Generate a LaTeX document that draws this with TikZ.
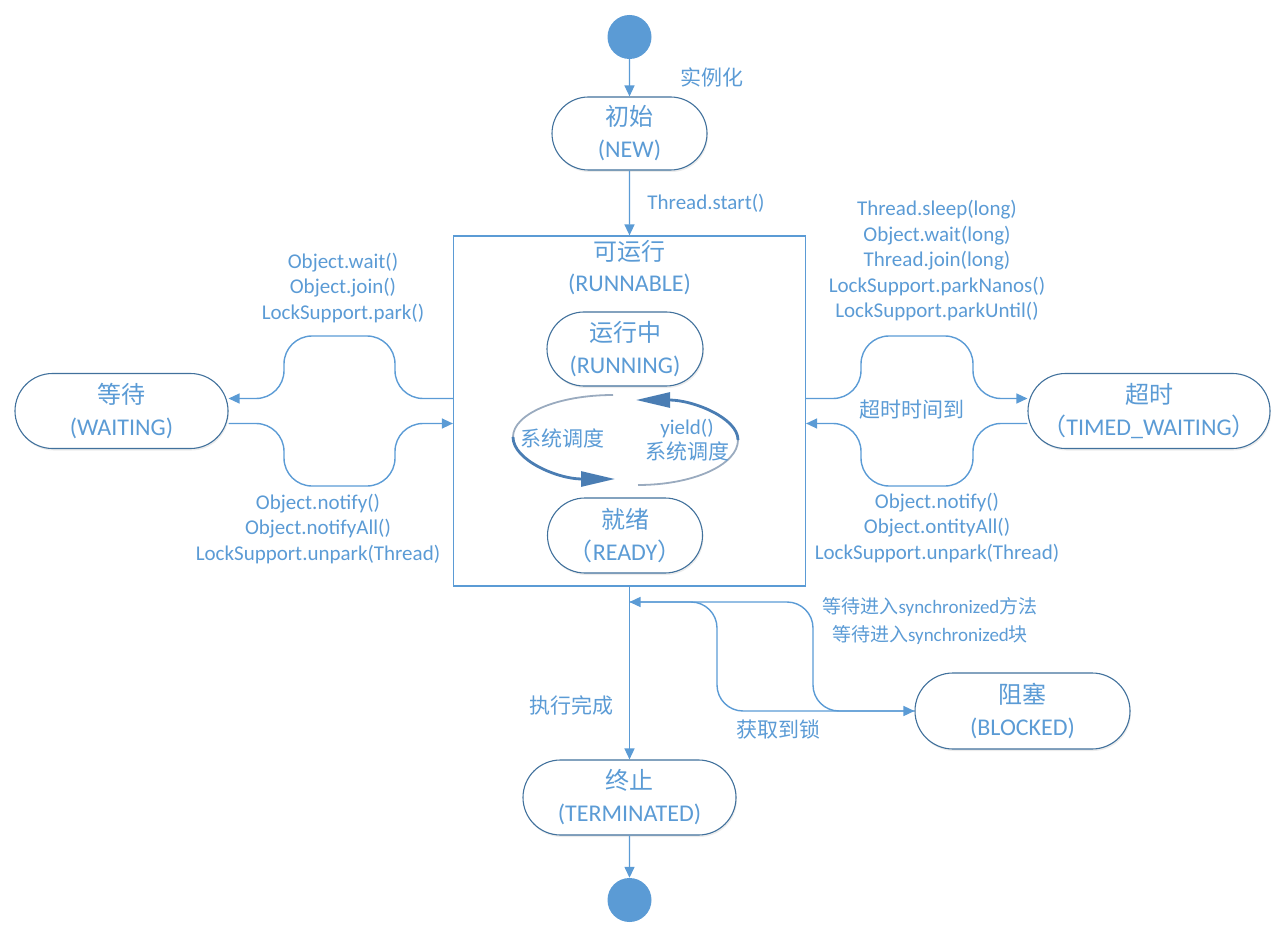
\documentclass[tikz,border=0pt]{standalone}
\usepackage{fontspec}
\setmainfont{Carlito}
\newfontfamily\cjk{Noto Sans CJK SC}
\usetikzlibrary{shapes.misc,arrows.meta,shadows}
\definecolor{lblue}{HTML}{5B9BD5}
\definecolor{nborder}{HTML}{41719C}
\definecolor{cyc}{HTML}{4A7DB3}
\definecolor{cycgray}{HTML}{9AABBF}
\begin{document}
\begin{tikzpicture}[x=1pt,y=-1pt,
  state/.style={rounded rectangle, draw=nborder, line width=1.1pt, fill=white, text=lblue, align=center, inner sep=0pt, font=\fontsize{24}{32}\selectfont, drop shadow={shadow xshift=1pt, shadow yshift=-2pt, opacity=0.15}},
  lbl/.style={text=lblue, align=center, font=\fontsize{21}{25.5}\selectfont, inner sep=0pt},
  conn/.style={draw=lblue, line width=1.4pt, -{Triangle[length=11pt,width=10pt]}},
  dot/.style={circle, fill=lblue, minimum size=44pt, inner sep=0pt},
  cycarrow/.style={draw=cyc, line width=2.8pt, -{Triangle[length=34pt,width=15pt]}},
  cycstart/.style={draw=cycgray, line width=1.8pt},
]
\useasboundingbox (0,0) rectangle (1286,928);

% nodes
\node[dot] (start) at (629.5,37) {};
\node[state, minimum width=155pt, minimum height=73pt] (new) at (629.5,133.5) {{\cjk 初始}\\(NEW)};
\node[draw=lblue, line width=1.2pt, minimum width=352pt, minimum height=350pt, inner sep=0pt] (box) at (629.5,411) {};
\node[lbl, font=\fontsize{24}{31}\selectfont] (boxtitle) at (629.5,268) {{\cjk 可运行}\\(RUNNABLE)};
\node[state, minimum width=156pt, minimum height=74pt] (running) at (625,349) {{\cjk 运行中}\\(RUNNING)};
\node[state, minimum width=155pt, minimum height=75pt] (ready) at (625,535.5) {{\cjk 就绪}\\{\cjk （}READY{\cjk ）}};
\node[state, minimum width=213pt, minimum height=75pt] (wait) at (121.5,411) {{\cjk 等待}\\(WAITING)};
\node[state, minimum width=242pt, minimum height=75pt] (timed) at (1149,411) {{\cjk 超时}\\{\cjk （}TIMED\_WAITING{\cjk ）}};
\node[state, minimum width=215pt, minimum height=76pt] (blocked) at (1022.5,711) {{\cjk 阻塞}\\(BLOCKED)};
\node[state, minimum width=213pt, minimum height=75pt] (term) at (629.5,797.5) {{\cjk 终止}\\(TERMINATED)};
\node[dot] (end) at (629.5,900) {};

% main connectors
\draw[conn] (start) -- (new);
\draw[conn] (new) -- (box.north);
\draw[conn] (box.south) -- (term.north);
\draw[conn] (term) -- (end);

% cycle between running and ready
\draw[cycstart] (613,395) .. controls (557.8,395) and (513,413.8) .. (513,437);
\draw[cycarrow] (513,437) .. controls (513,460.2) and (557.8,479) .. (615,479);
\draw[cycstart] (638,485) .. controls (693.2,485) and (738,464.8) .. (738,440);
\draw[cycarrow] (738,440) .. controls (738,418) and (693.2,400) .. (636,400);

% waiting
\draw[conn, rounded corners=28pt] ([yshift=12.5pt]box.west) -| (395,336) -| (284,398.5) -- ([yshift=12.5pt]wait.east);
\draw[conn, rounded corners=28pt] ([yshift=-12.5pt]wait.east) -| (284,486) -| (395,423.5) -- ([yshift=-12.5pt]box.west);

% timed waiting
\draw[conn, rounded corners=28pt] ([yshift=12.5pt]box.east) -| (861,336) -| (973,398.5) -- ([yshift=12.5pt]timed.west);
\draw[conn, rounded corners=28pt] ([yshift=-12.5pt]timed.west) -| (973,486) -| (861,423.5) -- ([yshift=-12.5pt]box.east);

% blocked
\coordinate (jn) at (629.5,602);
\draw[conn, rounded corners=26pt] (jn) -| (813,711) -- (blocked.west);
\draw[conn, rounded corners=26pt] (blocked.west) -| (717,602) -- (jn);

% labels
\node[lbl] (l1) at (712,77) {\cjk 实例化};
\node[lbl] (l2) at (706,203) {Thread.start()};
\node[lbl] (l3) at (343,288) {Object.wait()\\Object.join()\\LockSupport.park()};
\node[lbl] (l4) at (318,529) {Object.notify()\\Object.notifyAll()\\LockSupport.unpark(Thread)};
\node[lbl] (l5) at (937,261) {Thread.sleep(long)\\Object.wait(long)\\Thread.join(long)\\LockSupport.parkNanos()\\LockSupport.parkUntil()};
\node[lbl] (l6) at (912,410) {\cjk 超时时间到};
\node[lbl] (l7) at (937,528) {Object.notify()\\Object.ontityAll()\\LockSupport.unpark(Thread)};
\node[lbl, font=\fontsize{19}{28}\selectfont] (l8) at (930,621) {{\cjk 等待进入}synchronized{\cjk 方法}\\{\cjk 等待进入}synchronized{\cjk 块}};
\node[lbl] (l9) at (571,705) {\cjk 执行完成};
\node[lbl] (l10) at (778,729) {\cjk 获取到锁};
\node[lbl] (s1) at (562,438) {\cjk 系统调度};
\node[lbl] (s2) at (687,440) {yield()\\{\cjk 系统调度}};
\end{tikzpicture}
\end{document}
